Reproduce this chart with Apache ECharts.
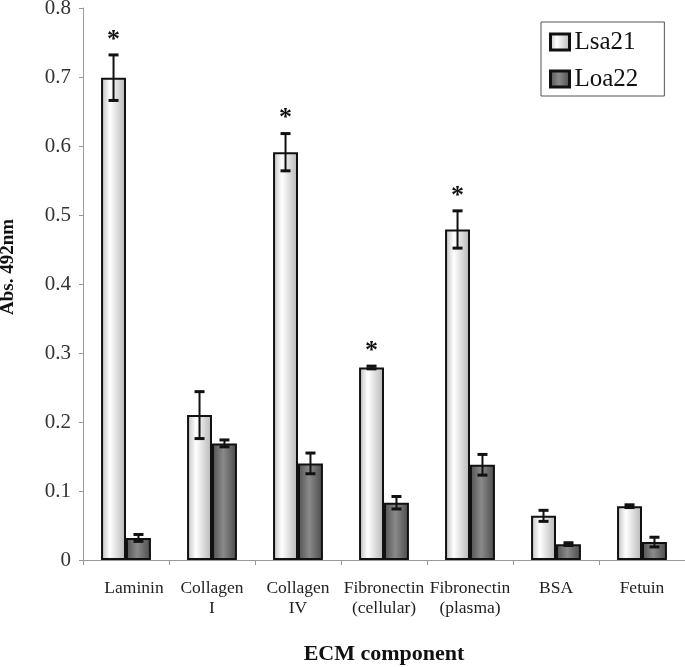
<!DOCTYPE html>
<html>
<head>
<meta charset="utf-8">
<script src="https://cdn.jsdelivr.net/npm/echarts@6/dist/echarts.min.js"></script>
<style>html,body{margin:0;padding:0;background:#fff;}#c{width:685px;height:667px;}</style>
</head>
<body>
<div id="c"></div>
<script>
var categories = ['Laminin', 'Collagen\nI', 'Collagen\nIV', 'Fibronectin\n(cellular)', 'Fibronectin\n(plasma)', 'BSA', 'Fetuin'];
var seriesNames = ['Lsa21', 'Loa22'];
var lsa21 = [0.699, 0.210, 0.591, 0.279, 0.479, 0.064, 0.078];
var lsa21Err = [0.033, 0.034, 0.027, 0.002, 0.027, 0.008, 0.002];
var loa22 = [0.032, 0.169, 0.140, 0.083, 0.138, 0.023, 0.026];
var loa22Err = [0.005, 0.005, 0.015, 0.009, 0.015, 0.002, 0.007];
var significant = [true, false, true, true, true, false, false];
var yTicks = ['0', '0.1', '0.2', '0.3', '0.4', '0.5', '0.6', '0.7', '0.8'];
var yTitle = 'Abs. 492nm';
var xTitle = 'ECM component';

var FONT = '"Liberation Serif", "Times New Roman", serif';
var catGapFrac = 0.42;

var lightFill = new echarts.graphic.LinearGradient(0, 0, 1, 0, [
  {offset: 0, color: '#bdbdbd'}, {offset: 0.35, color: '#ffffff'}, {offset: 1, color: '#b5b5b5'}
]);
var darkFill = new echarts.graphic.LinearGradient(0, 0, 1, 0, [
  {offset: 0, color: '#505050'}, {offset: 0.45, color: '#8a8a8a'}, {offset: 1, color: '#4a4a4a'}
]);

var errData = [];
for (var i = 0; i < categories.length; i++) {
  errData.push([i, 0, lsa21[i], lsa21Err[i], significant[i] ? 1 : 0]);
  errData.push([i, 1, loa22[i], loa22Err[i], 0]);
}

var chart = echarts.init(document.getElementById('c'), null, {renderer: 'canvas'});
chart.setOption({
  animation: false,
  backgroundColor: '#fff',
  grid: {left: 83, right: 0, top: 8, bottom: 107, containLabel: false, outerBoundsMode: 'none'},
  legend: {
    orient: 'vertical', left: 541, top: 22,
    padding: [7, 26, 4, 8],
    itemGap: 11,
    borderColor: '#555', borderWidth: 1,
    itemWidth: 19, itemHeight: 16,
    icon: 'rect',
    itemStyle: {borderWidth: 3, borderColor: '#111'},
    textStyle: {fontFamily: FONT, fontSize: 25, lineHeight: 26, color: '#111'},
    data: seriesNames
  },
  graphic: [
    {type: 'text', x: 8, y: 267, rotation: Math.PI / 2, silent: true,
      style: {text: yTitle, font: 'bold 19px ' + FONT, fill: '#111', align: 'center', verticalAlign: 'middle'}}
  ],
  xAxis: {
    type: 'category',
    data: categories,
    name: xTitle,
    nameLocation: 'middle',
    nameGap: 83,
    nameTextStyle: {fontFamily: FONT, fontSize: 22, fontWeight: 'bold', color: '#111'},
    axisLine: {lineStyle: {color: '#999', width: 1}},
    axisTick: {show: true, length: 5, lineStyle: {color: '#999'}},
    axisLabel: {fontFamily: FONT, fontSize: 17.5, color: '#222', margin: 18, lineHeight: 20, interval: 0,
      formatter: function (v, idx) { return idx === 0 ? '{s|' + v + '}' : v; },
      rich: {s: {fontFamily: FONT, fontSize: 17.5, color: '#222', lineHeight: 20, padding: [0, 0, 0, 16]}}}
  },
  yAxis: {
    type: 'value',
    min: 0, max: 0.8, interval: 0.1,
    splitLine: {show: false},
    axisLine: {show: true, lineStyle: {color: '#999', width: 1}},
    axisTick: {show: true, length: 4, lineStyle: {color: '#999'}},
    axisLabel: {fontFamily: FONT, fontSize: 21, color: '#333', margin: 12,
      formatter: function (v) { return yTicks[Math.round(v * 10)]; }}
  },
  series: [
    {
      name: seriesNames[0], type: 'bar', data: lsa21,
      barGap: '0%', barCategoryGap: '42%',
      itemStyle: {color: lightFill, borderColor: '#111', borderWidth: 2}
    },
    {
      name: seriesNames[1], type: 'bar', data: loa22,
      barGap: '0%', barCategoryGap: '42%',
      itemStyle: {color: darkFill, borderColor: '#111', borderWidth: 2}
    },
    {
      type: 'custom',
      data: errData,
      z: 10,
      silent: true,
      renderItem: function (params, api) {
        var ci = api.value(0), si = api.value(1), v = api.value(2), e = api.value(3), sig = api.value(4);
        var band = api.size([1, 0])[0];
        var bw = band * (1 - catGapFrac) / 2;
        var c = api.coord([ci, v]);
        var x = c[0] + (si === 0 ? -bw / 2 : bw / 2);
        var top = api.coord([ci, v + e])[1];
        var bot = api.coord([ci, v - e])[1];
        var cap = 5;
        var children = [
          {type: 'line', shape: {x1: x, y1: top, x2: x, y2: bot}, style: {stroke: '#111', lineWidth: 2}},
          {type: 'line', shape: {x1: x - cap, y1: top, x2: x + cap, y2: top}, style: {stroke: '#111', lineWidth: 3}},
          {type: 'line', shape: {x1: x - cap, y1: bot, x2: x + cap, y2: bot}, style: {stroke: '#111', lineWidth: 3}}
        ];
        if (sig) {
          children.push({type: 'text', style: {text: '*', x: x, y: top - 2, align: 'center', verticalAlign: 'bottom',
            font: 'bold 26px ' + FONT, fill: '#111'}});
        }
        return {type: 'group', children: children};
      }
    }
  ]
});
</script>
</body>
</html>
